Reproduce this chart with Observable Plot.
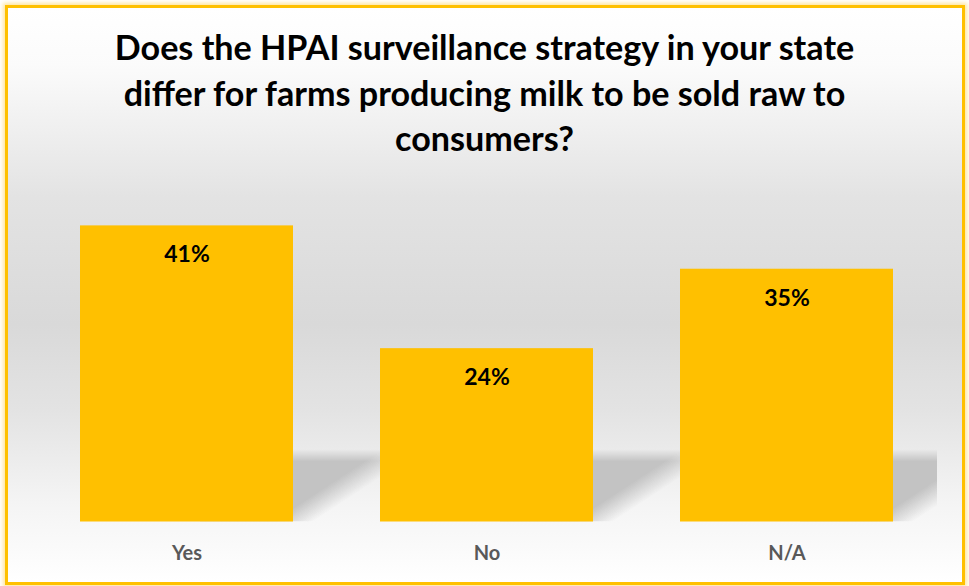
<!DOCTYPE html>
<html>
<head>
<meta charset="utf-8">
<script src="https://cdn.jsdelivr.net/npm/d3@7"></script>
<script src="https://cdn.jsdelivr.net/npm/@observablehq/plot@0.6"></script>
<style>
  html, body { margin: 0; padding: 0; background: #ffffff; }
  body { width: 969px; height: 586px; position: relative; overflow: hidden; font-family: Lato, "Open Sans", sans-serif; }
  #frame {
    position: absolute; left: 5px; top: 5px; width: 960px; height: 580px;
    box-sizing: border-box; border: 3px solid #FFC000;
    box-shadow: 0 0 4px 2px rgba(255, 200, 40, 0.45);
    background: linear-gradient(to bottom, #ffffff 0%, #fbfbfb 10%, #e3e3e3 33%, #d9d9d9 55%, #e3e3e3 70%, #f4f4f4 86%, #ffffff 100%);
  }
  #title {
    position: absolute; left: 0; width: 969px; text-align: center;
    font-family: Lato, sans-serif; font-weight: bold; color: #000000;
    line-height: 45.5px; white-space: nowrap;
  }
  #chart { position: absolute; left: 0; top: 175px; }
</style>
</head>
<body>
<div id="frame"></div>
<div id="title"></div>
<div id="chart"></div>
<script>
// ---- data ----
const titleLines = [
  "Does the HPAI surveillance strategy in your state",
  "differ for farms producing milk to be sold raw to",
  "consumers?"
];
const categories = ["Yes", "No", "N/A"];
const shares = [0.41, 0.24, 0.35];
const valueLabels = ["41%", "24%", "35%"];

const SHADOW_DEPTH = 0.1;   // decorative floor shadow height (in y units)
const SHADOW_SHIFT = 120;   // px shift of the shadow to the right
const SHADOW_COLOR = "#c3c3c3";

const data = categories.map((c, i) => ({cat: c, v: shares[i], label: valueLabels[i]}));

// ---- title (fit line 1 to the reference width) ----
const titleEl = document.getElementById("title");
const ctx = document.createElement("canvas").getContext("2d");
ctx.font = "bold 30px Lato";
const w1 = ctx.measureText(titleLines[0]).width;
const F = 30 * 742 / w1;
titleEl.style.fontSize = F + "px";
const lineH = 45.5;
titleEl.style.top = (60 - ((lineH - 1.2 * F) / 2 + 0.987 * F)) + "px";
titleEl.innerHTML = titleLines.map(t => t.replace(/&/g, "&amp;").replace(/</g, "&lt;")).join("<br>");

// ---- chart ----
const chart = Plot.plot({
  width: 969,
  height: 411,
  marginLeft: 36,
  marginRight: 32,
  marginTop: 21.5,
  marginBottom: 64.5,
  style: {background: "transparent", fontFamily: "Lato, sans-serif", overflow: "visible"},
  x: {domain: categories, paddingInner: 0.29, paddingOuter: 0.145, label: null, axis: null},
  y: {domain: [0, 0.45], axis: null},
  marks: [
    Plot.barY(data, {x: "cat", y1: 0, y2: () => SHADOW_DEPTH, dx: SHADOW_SHIFT, fill: SHADOW_COLOR, clip: true}),
    Plot.barY(data, {x: "cat", y: "v", fill: "#FFC000"}),
    Plot.text(data, {x: "cat", y: "v", text: "label", dy: 29, lineAnchor: "middle", fontSize: 23, fontWeight: "bold", fill: "#000000"}),
    Plot.text(categories, {x: d => d, frameAnchor: "bottom", dy: 24, lineAnchor: "top", fontSize: 20, fontWeight: "bold", fill: "#595959"})
  ]
});
document.getElementById("chart").appendChild(chart);

// ---- per-bar soft floor shadow gradients (decoration) ----
const svg = d3.select(chart);
const defs = svg.insert("defs", ":first-child");
const slope = 0.655;                      // diagonal edge of the shadow
const nrm = Math.hypot(slope, 1);
const nx = slope / nrm, ny = 1 / nrm;     // points lower-right
const soft = 11;
const shadowRects = svg.selectAll("g").filter(function() {
  return (this.getAttribute("fill") || "").toLowerCase() === SHADOW_COLOR;
}).selectAll("rect");
shadowRects.each(function(d, i) {
  const r = d3.select(this);
  const x0 = +r.attr("x"), y0 = +r.attr("y"), w = +r.attr("width"), h = +r.attr("height");
  const cx = x0 + w - SHADOW_SHIFT;       // bar right edge in local coords
  const cy = y0 + h;                      // baseline
  const gid = "shd" + i, vid = "shv" + i, mid = "shm" + i;
  const g = defs.append("linearGradient").attr("id", gid).attr("gradientUnits", "userSpaceOnUse")
    .attr("x1", cx - soft * nx).attr("y1", cy - soft * ny)
    .attr("x2", cx + soft * nx).attr("y2", cy + soft * ny);
  g.append("stop").attr("offset", 0).attr("stop-color", SHADOW_COLOR).attr("stop-opacity", 1);
  g.append("stop").attr("offset", 1).attr("stop-color", SHADOW_COLOR).attr("stop-opacity", 0);
  const v = defs.append("linearGradient").attr("id", vid).attr("gradientUnits", "userSpaceOnUse")
    .attr("x1", 0).attr("y1", y0).attr("x2", 0).attr("y2", y0 + 12);
  v.append("stop").attr("offset", 0).attr("stop-color", "#000");
  v.append("stop").attr("offset", 1).attr("stop-color", "#fff");
  const m = defs.append("mask").attr("id", mid).attr("maskUnits", "userSpaceOnUse")
    .attr("x", x0 - 10).attr("y", y0 - 10).attr("width", w + 20).attr("height", h + 20);
  m.append("rect").attr("x", x0 - 10).attr("y", y0).attr("width", w + 20).attr("height", h + 10).attr("fill", `url(#${vid})`);
  r.attr("fill", `url(#${gid})`).attr("mask", `url(#${mid})`);
});
</script>
</body>
</html>
